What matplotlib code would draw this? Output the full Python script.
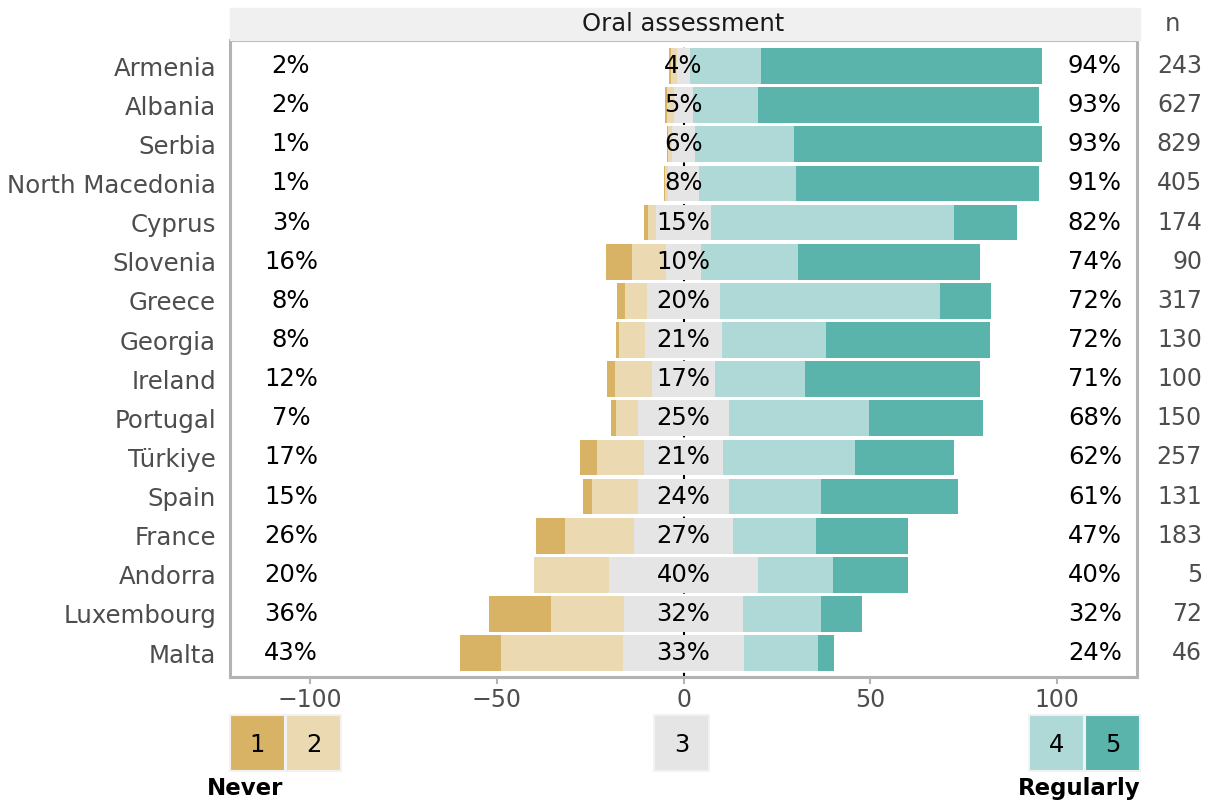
import matplotlib.pyplot as plt
import matplotlib.patches as mpatches
import matplotlib.transforms as mtrans
import numpy as np

# data (percent of respondents per answer 1..5)
countries = ['Armenia', 'Albania', 'Serbia', 'North Macedonia', 'Cyprus', 'Slovenia',
             'Greece', 'Georgia', 'Ireland', 'Portugal', 'Türkiye', 'Spain', 'France',
             'Andorra', 'Luxembourg', 'Malta']
p1 = [0.5, 0.5, 0.2, 0.2, 1.2, 6.7, 2.1, 0.8, 2.1, 1.5, 4.3, 2.5, 7.8, 0.0, 16.7, 10.9]
p2 = [1.5, 1.8, 1.0, 0.8, 2.1, 9.1, 5.9, 7.0, 9.9, 5.7, 12.8, 12.2, 18.4, 20.0, 19.4, 32.6]
p3 = [3.7, 5.2, 6.2, 8.2, 14.7, 9.6, 19.5, 20.6, 16.8, 24.6, 20.9, 24.3, 26.7, 40.0, 31.9, 32.6]
p4 = [19.0, 17.4, 26.5, 26.0, 65.0, 25.7, 58.8, 27.8, 24.0, 37.2, 35.3, 24.6, 22.2, 20.0, 20.8, 19.6]
p5 = [75.0, 75.0, 66.3, 65.0, 16.8, 48.9, 13.6, 43.9, 47.0, 30.7, 26.5, 36.6, 24.6, 20.0, 11.1, 4.3]
left_lab = ['2%', '2%', '1%', '1%', '3%', '16%', '8%', '8%', '12%', '7%', '17%', '15%', '26%', '20%', '36%', '43%']
mid_lab = ['4%', '5%', '6%', '8%', '15%', '10%', '20%', '21%', '17%', '25%', '21%', '24%', '27%', '40%', '32%', '33%']
right_lab = ['94%', '93%', '93%', '91%', '82%', '74%', '72%', '72%', '71%', '68%', '62%', '61%', '47%', '40%', '32%', '24%']
n_resp = [243, 627, 829, 405, 174, 90, 317, 130, 100, 150, 257, 131, 183, 5, 72, 46]

cols = ['#d8b365', '#ebdab1', '#e5e5e5', '#aed9d6', '#5ab4ac']
grey = '#4d4d4d'

W, H = 1214, 805
fig = plt.figure(figsize=(W / 100, H / 100), dpi=100)
ax = fig.add_axes([230 / W, 1 - 677 / H, (1137 - 230) / W, (677 - 40) / H])

k = len(countries)
y = np.arange(k)[::-1]
a1, a2, a3, a4, a5 = [np.array(v) for v in (p1, p2, p3, p4, p5)]
start = -(a3 / 2 + a2 + a1)
lefts = [start, start + a1, start + a1 + a2, a3 / 2, a3 / 2 + a4]
for seg, lft, c in zip((a1, a2, a3, a4, a5), lefts, cols):
    ax.barh(y, seg, left=lft, height=0.91, color=c, zorder=2)

ax.axvline(0, color='black', ls=(0, (2, 3)), lw=1.5, zorder=1)

ntrans = mtrans.blended_transform_factory(fig.transFigure, ax.transData)
for i in range(k):
    ax.text(-105, y[i], left_lab[i], ha='center', va='center', fontsize=17.5, color='black')
    ax.text(0, y[i], mid_lab[i], ha='center', va='center', fontsize=17.5, color='black', zorder=3)
    ax.text(110, y[i], right_lab[i], ha='center', va='center', fontsize=17.5, color='black')
    ax.text(1202 / W, y[i], str(n_resp[i]), transform=ntrans,
            ha='right', va='center', fontsize=17, color=grey)

ax.set_xlim(-121.3, 121.3)
ax.set_ylim(-0.61, k - 1 + 0.665)
ax.set_yticks(y)
ax.set_yticklabels(countries, fontsize=17.6, color=grey)
ax.tick_params(axis='y', length=0, pad=10)
ax.set_xticks([-100, -50, 0, 50, 100])
ax.set_xticklabels(['\u2212100', '\u221250', '0', '50', '100'], fontsize=17, color=grey)
ax.tick_params(axis='x', length=5, color='#b3b3b3', width=1.5, pad=3)
for s in ax.spines.values():
    s.set_color('#b3b3b3')
    s.set_linewidth(2.2)

# facet strip
fig.patches.append(mpatches.Rectangle((230 / W, 1 - 40 / H), (1140 - 230) / W, 32 / H,
                                      transform=fig.transFigure, color='#f0f0f0', zorder=0))
fig.text(683 / W, 1 - 24 / H, 'Oral assessment', ha='center', va='center', fontsize=17.5, color='#1a1a1a')
fig.text(1172 / W, 1 - 24 / H, 'n', ha='center', va='center', fontsize=17.5, color=grey)

# legend
boxes = [(230, '1'), (286, '2'), (654, '3'), (1029, '4'), (1085, '5')]
for (x0, lab), c in zip(boxes, cols):
    fig.patches.append(mpatches.Rectangle((x0 / W, 1 - 771 / H), 55 / W, 56 / H, transform=fig.transFigure,
                                          facecolor=c, edgecolor='#f2f2f2', lw=1.5))
    fig.text((x0 + 27.5) / W, 1 - 745 / H, lab, ha='center', va='center', fontsize=17.5, color='black')
fig.text(207 / W, 1 - 788 / H, 'Never', ha='left', va='center', fontsize=16.5, fontweight='bold')
fig.text(1140 / W, 1 - 788 / H, 'Regularly', ha='right', va='center', fontsize=16.5, fontweight='bold')

fig.savefig('out.png', dpi=100)
